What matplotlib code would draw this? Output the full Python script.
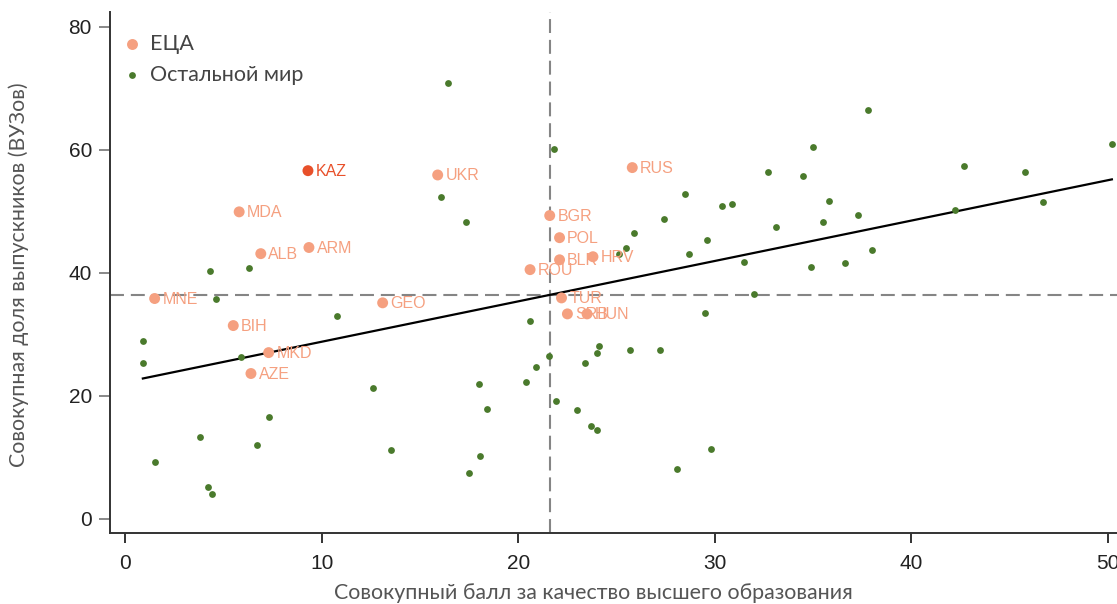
import matplotlib
matplotlib.use("Agg")
import matplotlib.pyplot as plt
import numpy as np

# ECA countries
eca_codes = ["KAZ", "UKR", "MDA", "ALB", "ARM", "MNE", "BIH", "MKD", "AZE", "GEO",
             "RUS", "BGR", "POL", "BLR", "HRV", "ROU", "TUR", "SRB", "HUN"]
eca_x = [9.3, 15.9, 5.8, 6.9, 9.35, 1.5, 5.5, 7.3, 6.4, 13.1,
         25.8, 21.6, 22.1, 22.1, 23.8, 20.6, 22.2, 22.5, 23.5]
eca_y = [56.6, 55.9, 49.9, 43.1, 44.1, 35.8, 31.4, 27.0, 23.6, 35.1,
         57.1, 49.3, 45.7, 42.1, 42.6, 40.5, 35.9, 33.3, 33.3]

# rest of world
row_x = [4.3, 6.3, 4.6, 10.8, 0.9, 0.9, 5.9, 12.6, 7.3, 3.8, 6.7, 13.5, 1.5, 4.2, 4.4,
         16.4, 21.8, 16.05, 17.35, 28.5, 27.4, 25.9, 25.5, 25.1, 28.7,
         20.6, 29.5, 24.1, 24.0, 25.7, 27.2, 21.55, 20.9, 23.4, 18.0, 20.4, 18.4, 21.9,
         23.0, 23.7, 24.0, 18.05, 17.5, 29.8, 28.1,
         37.8, 35.0, 50.2, 32.7, 34.5, 42.7, 45.8, 30.35, 30.85, 35.8, 46.7, 35.5, 37.3,
         42.2, 33.1, 29.6, 31.5, 34.9, 36.6, 38.0, 32.0]
row_y = [40.3, 40.8, 35.8, 33.0, 28.9, 25.3, 26.3, 21.2, 16.5, 13.2, 11.9, 11.2, 9.2, 5.15, 3.95,
         70.8, 60.2, 52.3, 48.3, 52.8, 48.7, 46.5, 44.1, 43.0, 43.1,
         32.2, 33.5, 28.0, 27.0, 27.5, 27.4, 26.5, 24.7, 25.3, 21.9, 22.2, 17.9, 19.2,
         17.7, 15.1, 14.4, 10.1, 7.4, 11.3, 8.0,
         66.4, 60.5, 61.0, 56.4, 55.7, 57.3, 56.4, 50.9, 51.2, 51.7, 51.5, 48.2, 49.4,
         50.2, 47.4, 45.3, 41.7, 40.9, 41.5, 43.7, 36.5]

# reference lines and fit
mean_x = 21.6
mean_y = 36.4
fit_intercept = 22.2
fit_slope = 0.657

eca_color = "#F5A080"
kaz_color = "#E8502A"
row_color = "#4A7A2C"

fig = plt.figure(figsize=(11.17, 6.04), dpi=100)
ax = fig.add_axes([0.0985, 0.117, 0.905, 0.863])

ax.axvline(mean_x, color="#858585", lw=1.5, dashes=(6.7, 3.3), zorder=1)
ax.axhline(mean_y, color="#858585", lw=1.5, dashes=(6.7, 3.3), zorder=1)

ax.scatter(row_x, row_y, s=24, color=row_color, zorder=3, linewidths=0)
cols = [kaz_color if c == "KAZ" else eca_color for c in eca_codes]
ax.scatter(eca_x, eca_y, s=62, color=cols, zorder=4, linewidths=0)
for c, x, y, col in zip(eca_codes, eca_x, eca_y, cols):
    ax.annotate(c, (x, y), xytext=(5.5, -0.5), textcoords="offset points",
                va="center", ha="left", fontsize=11.5, color=col,
                family="Liberation Sans", zorder=5)

allx = np.array(eca_x + row_x)
xs = np.array([allx.min(), allx.max()])
ax.plot(xs, fit_intercept + fit_slope * xs, color="black", lw=1.6, zorder=2)

# legend
h1 = ax.scatter([], [], s=62, color=eca_color, linewidths=0, label="ЕЦА")
h2 = ax.scatter([], [], s=24, color=row_color, linewidths=0, label="Остальной мир")
leg = ax.legend(handles=[h1, h2], loc="upper left", frameon=False,
                bbox_to_anchor=(-0.008, 0.995), handlelength=1.0, handletextpad=0.35,
                labelspacing=0.5, prop={"family": "Lato", "size": 15.5})
for t in leg.get_texts():
    t.set_color("#444444")

ax.set_xlim(-0.77, 50.66)
ax.set_ylim(-2.4, 82.4)
ax.set_xticks([0, 10, 20, 30, 40, 50])
ax.set_yticks([0, 20, 40, 60, 80])
for s in ["top", "right"]:
    ax.spines[s].set_visible(False)
for s in ["left", "bottom"]:
    ax.spines[s].set_linewidth(1.4)
    ax.spines[s].set_color("#333333")
ax.tick_params(axis="x", length=7, width=1.4, color="#333333", labelsize=15,
               labelcolor="#222222", pad=8)
ax.tick_params(axis="y", length=8, width=1.4, color="#888888", labelsize=15,
               labelcolor="#222222", pad=5)
for lab in ax.get_xticklabels() + ax.get_yticklabels():
    lab.set_family(["Liberation Sans Narrow", "Liberation Sans", "DejaVu Sans"])

ax.set_xlabel("Совокупный балл за качество высшего образования",
              family="Lato", fontsize=15.4, color="#555555")
ax.set_ylabel("Совокупная доля выпускников (ВУЗов)",
              family="Lato", fontsize=15.4, color="#555555")
ax.xaxis.set_label_coords(0.478, -0.095)
ax.yaxis.set_label_coords(-0.080, 0.497)

fig.savefig("out.png", dpi=100)
